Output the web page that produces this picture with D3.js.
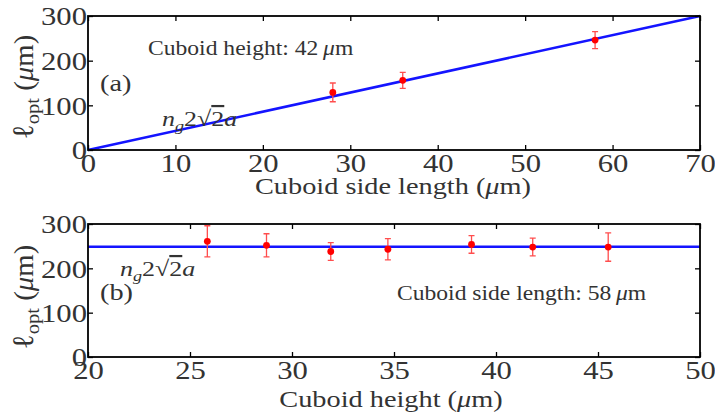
<!DOCTYPE html>
<html>
<head>
<meta charset="utf-8">
<script src="https://cdn.jsdelivr.net/npm/d3@7"></script>
<style>
  body { margin: 0; background: #fff; }
  svg { display: block; font-family: "Liberation Serif", "DejaVu Serif", serif; }
  .tick text { fill: #333; font-family: "Liberation Serif", serif; }
</style>
</head>
<body>
<div id="chart"></div>
<script>
// panel (a): fixed cuboid height 42 um
const sideLength = [28, 36, 58];
const optA = [129, 156, 246];
const errA = [21, 18, 19];
const theoryA = [[0, 0], [70, 300]];

// panel (b): fixed side length 58 um
const heights = [25.85, 28.75, 31.9, 34.7, 38.8, 41.8, 45.5];
const optB = [261, 252, 238, 243, 254, 248, 248];
const errB = [35, 26, 20, 24, 20, 20, 32];
const theoryB = [[20, 248.6], [50, 248.6]];

const xTicksA = [0, 10, 20, 30, 40, 50, 60, 70];
const xTicksB = [20, 25, 30, 35, 40, 45, 50];
const yTicks = [0, 100, 200, 300];

const W = 715, H = 416;
const SX = 1.18; // glyphs in the reference are a bit wider than tall

const svg = d3.select("#chart").append("svg")
  .attr("width", W).attr("height", H);

function stext(parent, x, y, anchor, size) {
  return parent.append("g")
    .attr("transform", `translate(${x},${y}) scale(${SX},1)`)
    .append("text")
    .attr("text-anchor", anchor)
    .attr("font-size", size)
    .attr("fill", "#333");
}

function mathLabel(parent, x, y, size) {
  const t = stext(parent, x, y, "start", size);
  t.append("tspan").attr("font-style", "italic").text("n");
  t.append("tspan").attr("font-style", "italic").attr("font-size", size * 0.7).attr("dy", 5).text("g");
  t.append("tspan").attr("dy", -5).text("2");
  t.append("tspan").text("\u221A");
  t.append("tspan").style("text-decoration", "overline").text("2");
  t.append("tspan").attr("font-style", "italic").text("a");
  return t;
}

function yTitle(parent, x, y) {
  const t = parent.append("g")
    .attr("transform", `translate(${x},${y}) rotate(-90) scale(1.15,1.1)`)
    .append("text")
    .attr("text-anchor", "middle")
    .attr("font-size", 25)
    .attr("fill", "#333");
  t.append("tspan").attr("font-size", 27).text("\u2113");
  t.append("tspan").attr("font-size", 18).attr("dy", 5).text("opt");
  t.append("tspan").attr("dy", -5).text(" (");
  t.append("tspan").attr("font-style", "italic").text("\u03BC");
  t.append("tspan").text("m)");
}

function panel(cfg) {
  const { x, y, xs, ys } = cfg;
  const g = svg.append("g");
  const [x0, x1] = x.range();
  const [y0, y1] = y.range();

  // theory line
  g.append("path")
    .datum(cfg.theory)
    .attr("fill", "none")
    .attr("stroke", "#1414ff")
    .attr("stroke-width", 2.5)
    .attr("d", d3.line().x(d => x(d[0])).y(d => y(d[1])));

  // error bars
  const pts = xs.map((v, i) => ({ x: v, y: ys[i], e: cfg.err[i] }));
  const eb = g.append("g").attr("stroke", "#ff4d4d").attr("stroke-width", 1.3).attr("fill", "none");
  eb.selectAll(".bar").data(pts).join("path")
    .attr("d", d => {
      const cx = x(d.x), top = y(d.y + d.e), bot = y(d.y - d.e);
      return `M${cx},${top}V${bot}M${cx - 3},${top}H${cx + 3}M${cx - 3},${bot}H${cx + 3}`;
    });
  g.append("g").selectAll("circle").data(pts).join("circle")
    .attr("cx", d => x(d.x)).attr("cy", d => y(d.y))
    .attr("r", 3.4).attr("fill", "#ff0000");

  // axes, ticks pointing inward
  const bottom = g.append("g").attr("transform", `translate(0,${y0})`)
    .call(d3.axisBottom(x).tickValues(cfg.xTicks).tickSizeInner(-5).tickSizeOuter(0).tickPadding(4));
  const left = g.append("g").attr("transform", `translate(${x0},0)`)
    .call(d3.axisLeft(y).tickValues(yTicks).tickSizeInner(-5).tickSizeOuter(0).tickPadding(2));
  const top = g.append("g").attr("transform", `translate(0,${y1})`)
    .call(d3.axisTop(x).tickValues(cfg.xTicks).tickSizeInner(-5).tickSizeOuter(0).tickFormat(""));
  const right = g.append("g").attr("transform", `translate(${x1},0)`)
    .call(d3.axisRight(y).tickValues(yTicks).tickSizeInner(-5).tickSizeOuter(0).tickFormat(""));

  [bottom, left, top, right].forEach(a => a.attr("font-family", null).attr("font-size", null));
  g.selectAll(".domain").remove();
  g.selectAll(".tick line").attr("stroke", "#000").attr("stroke-width", 1.3);
  g.selectAll(".tick text").attr("font-size", 26).attr("font-family", "Liberation Serif, serif");
  bottom.selectAll(".tick text").attr("transform", `scale(${SX},1)`).attr("dy", "0.7em");
  left.selectAll(".tick text").attr("x", -1 / SX).attr("dy", "0.34em").attr("transform", `scale(${SX},1)`);

  g.append("rect")
    .attr("x", x0).attr("y", y1)
    .attr("width", x1 - x0).attr("height", y0 - y1)
    .attr("fill", "none").attr("stroke", "#000").attr("stroke-width", 1.8);

  return g;
}

// panel (a)
const xA = d3.scaleLinear().domain([0, 70]).range([88, 700]);
const yA = d3.scaleLinear().domain([0, 300]).range([150, 16]);
const gA = panel({ x: xA, y: yA, xs: sideLength, ys: optA, err: errA, theory: theoryA, xTicks: xTicksA });

const tA = stext(gA, 148, 55, "start", 20);
tA.append("tspan").text("Cuboid height: 42\u2009");
tA.append("tspan").attr("font-style", "italic").text("\u03BC");
tA.append("tspan").text("m");
stext(gA, 100, 91, "start", 24).text("(a)");
mathLabel(gA, 162, 126, 22);

const xtA = stext(gA, 393, 194, "middle", 24);
xtA.append("tspan").text("Cuboid side length (");
xtA.append("tspan").attr("font-style", "italic").text("\u03BC");
xtA.append("tspan").text("m)");
yTitle(gA, 33, 87);

// panel (b)
const xB = d3.scaleLinear().domain([20, 50]).range([88, 700]);
const yB = d3.scaleLinear().domain([0, 300]).range([357, 224]);
const gB = panel({ x: xB, y: yB, xs: heights, ys: optB, err: errB, theory: theoryB, xTicks: xTicksB });

const tB = stext(gB, 397, 300, "start", 20);
tB.append("tspan").text("Cuboid side length: 58\u2009");
tB.append("tspan").attr("font-style", "italic").text("\u03BC");
tB.append("tspan").text("m");
stext(gB, 100, 300, "start", 24).text("(b)");
mathLabel(gB, 120, 276, 22);

const xtB = stext(gB, 391, 407, "middle", 24);
xtB.append("tspan").text("Cuboid height (");
xtB.append("tspan").attr("font-style", "italic").text("\u03BC");
xtB.append("tspan").text("m)");
yTitle(gB, 33, 297);
</script>
</body>
</html>
